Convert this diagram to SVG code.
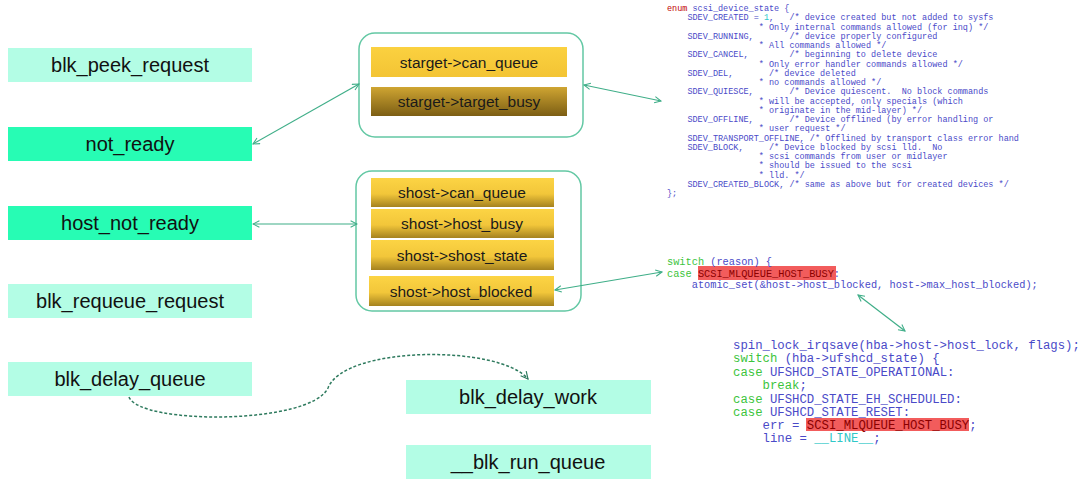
<svg xmlns="http://www.w3.org/2000/svg" width="1080" height="484" viewBox="0 0 1080 484">
<defs>
<linearGradient id="gY" x1="0" y1="0" x2="0" y2="1"><stop offset="0" stop-color="#fcd444"/><stop offset="0.55" stop-color="#f2c63a"/><stop offset="1" stop-color="#a5821f"/></linearGradient>
<linearGradient id="gY2" x1="0" y1="0" x2="0" y2="1"><stop offset="0" stop-color="#fbd140"/><stop offset="1" stop-color="#f3c434"/></linearGradient>
<linearGradient id="gD" x1="0" y1="0" x2="0" y2="1"><stop offset="0" stop-color="#cfa532"/><stop offset="1" stop-color="#7c5e14"/></linearGradient>
<marker id="ah" viewBox="0 0 10 10" refX="9" refY="5" markerWidth="8" markerHeight="8" orient="auto-start-reverse" markerUnits="userSpaceOnUse"><path d="M1,1 L9,5 L1,9" fill="none" stroke="#3fae88" stroke-width="1.3"/></marker>
<marker id="ahd" viewBox="0 0 10 10" refX="9" refY="5" markerWidth="9" markerHeight="9" orient="auto" markerUnits="userSpaceOnUse"><path d="M1,1 L9,5 L1,9" fill="none" stroke="#2e7a5e" stroke-width="1.3"/></marker>
</defs>
<style>
.lt{fill:#b3fde5}.bt{fill:#27fcb4}
.nt{font-family:"Liberation Sans",Arial,sans-serif;font-size:20px;fill:#111;text-anchor:middle}
.it{font-family:"Liberation Sans",Arial,sans-serif;font-size:15.5px;fill:#1a1a1a;text-anchor:middle}
.grp{fill:#fff;stroke:#63c8a4;stroke-width:1.5}
.conn{fill:none;stroke:#3fae88;stroke-width:1.2;marker-start:url(#ah);marker-end:url(#ah)}
.code text{font-family:"Liberation Mono","Courier New",monospace;fill:#4a4ac8;white-space:pre}
.c1 text{font-size:8.5px}.c2 text{font-size:10.3px}.c3 text{font-size:12.3px}
.kw{fill:#3cc43c}.red{fill:#c00000}.cy{fill:#30c8c8}.hl{fill:#8b0000}
</style>
<rect width="1080" height="484" fill="#fff"/>

<g id="blk_peek_request"><rect class="lt" x="8" y="48" width="244" height="34"/><text class="nt" x="130" y="72">blk_peek_request</text></g>
<g id="not_ready"><rect class="bt" x="8" y="127" width="244" height="34"/><text class="nt" x="130" y="151">not_ready</text></g>
<g id="host_not_ready"><rect class="bt" x="8" y="206" width="244" height="34"/><text class="nt" x="130" y="230">host_not_ready</text></g>
<g id="blk_requeue_request"><rect class="lt" x="8" y="284" width="244" height="34"/><text class="nt" x="130" y="308">blk_requeue_request</text></g>
<g id="blk_delay_queue"><rect class="lt" x="8" y="362" width="244" height="34"/><text class="nt" x="130" y="386">blk_delay_queue</text></g>
<g id="blk_delay_work"><rect class="lt" x="406" y="380" width="245" height="34"/><text class="nt" x="528" y="404">blk_delay_work</text></g>
<g id="__blk_run_queue"><rect class="lt" x="406" y="445" width="245" height="34"/><text class="nt" x="528" y="469">__blk_run_queue</text></g>

<g id="starget_group">
<rect class="grp" x="359" y="33" width="224" height="104" rx="16"/>
<g id="starget_can_queue"><rect x="371" y="47" width="196" height="30" fill="url(#gY2)"/><text class="it" x="469" y="68">starget-&gt;can_queue</text></g>
<g id="starget_target_busy"><rect x="371" y="87" width="196" height="29" fill="url(#gD)"/><text class="it" x="469" y="107">starget-&gt;target_busy</text></g>
</g>

<g id="shost_group">
<rect class="grp" x="356" y="171" width="225" height="140" rx="16"/>
<g id="shost_can_queue"><rect x="371" y="178" width="183" height="29" fill="url(#gY)"/><text class="it" x="462" y="198">shost-&gt;can_queue</text></g>
<g id="shost_host_busy"><rect x="371" y="209" width="183" height="29" fill="url(#gY)"/><text class="it" x="462" y="229">shost-&gt;host_busy</text></g>
<g id="shost_shost_state"><rect x="371" y="240" width="183" height="30" fill="url(#gY)"/><text class="it" x="462" y="261">shost-&gt;shost_state</text></g>
<g id="shost_host_blocked"><rect x="369" y="276" width="185" height="30" fill="url(#gY)"/><text class="it" x="461" y="297">shost-&gt;host_blocked</text></g>
</g>

<g id="enum_code" class="code c1">
<text x="667" y="11"><tspan class="red">enum</tspan> scsi_device_state {</text>
<text x="667" y="20.25" xml:space="preserve">    SDEV_CREATED = <tspan class="cy">1</tspan>,   /* device created but not added to sysfs</text>
<text x="667" y="29.5" xml:space="preserve">                  * Only internal commands allowed (for inq) */</text>
<text x="667" y="38.75" xml:space="preserve">    SDEV_RUNNING,       /* device properly configured</text>
<text x="667" y="48" xml:space="preserve">                  * All commands allowed */</text>
<text x="667" y="57.25" xml:space="preserve">    SDEV_CANCEL,        /* beginning to delete device</text>
<text x="667" y="66.5" xml:space="preserve">                  * Only error handler commands allowed */</text>
<text x="667" y="75.75" xml:space="preserve">    SDEV_DEL,       /* device deleted</text>
<text x="667" y="85" xml:space="preserve">                  * no commands allowed */</text>
<text x="667" y="94.25" xml:space="preserve">    SDEV_QUIESCE,       /* Device quiescent.  No block commands</text>
<text x="667" y="103.5" xml:space="preserve">                  * will be accepted, only specials (which</text>
<text x="667" y="112.75" xml:space="preserve">                  * originate in the mid-layer) */</text>
<text x="667" y="122" xml:space="preserve">    SDEV_OFFLINE,       /* Device offlined (by error handling or</text>
<text x="667" y="131.25" xml:space="preserve">                  * user request */</text>
<text x="667" y="140.5" xml:space="preserve">    SDEV_TRANSPORT_OFFLINE, /* Offlined by transport class error hand</text>
<text x="667" y="149.75" xml:space="preserve">    SDEV_BLOCK,     /* Device blocked by scsi lld.  No</text>
<text x="667" y="159" xml:space="preserve">                  * scsi commands from user or midlayer</text>
<text x="667" y="168.25" xml:space="preserve">                  * should be issued to the scsi</text>
<text x="667" y="177.5" xml:space="preserve">                  * lld. */</text>
<text x="667" y="186.75" xml:space="preserve">    SDEV_CREATED_BLOCK, /* same as above but for created devices */</text>
<text x="667" y="196">};</text>
</g>

<g id="switch_code" class="code c2">
<rect x="698" y="266" width="138" height="14" fill="#f25c5c"/>
<text x="667" y="265"><tspan class="kw">switch</tspan> (reason) {</text>
<text x="667" y="277" xml:space="preserve"><tspan class="kw">case</tspan> <tspan class="hl">SCSI_MLQUEUE_HOST_BUSY</tspan>:</text>
<text x="667" y="288" xml:space="preserve">    atomic_set(&amp;host-&gt;host_blocked, host-&gt;max_host_blocked);</text>
</g>

<g id="ufs_code" class="code c3">
<rect x="806" y="418" width="163" height="13" fill="#f25c5c"/>
<text x="733" y="349">spin_lock_irqsave(hba-&gt;host-&gt;host_lock, flags);</text>
<text x="733" y="362" xml:space="preserve"><tspan class="kw">switch</tspan> (hba-&gt;ufshcd_state) {</text>
<text x="733" y="376" xml:space="preserve"><tspan class="kw">case</tspan> UFSHCD_STATE_OPERATIONAL:</text>
<text x="733" y="389" xml:space="preserve"><tspan class="kw">    break</tspan>;</text>
<text x="733" y="403" xml:space="preserve"><tspan class="kw">case</tspan> UFSHCD_STATE_EH_SCHEDULED:</text>
<text x="733" y="416" xml:space="preserve"><tspan class="kw">case</tspan> UFSHCD_STATE_RESET:</text>
<text x="733" y="429" xml:space="preserve">    err = <tspan class="hl">SCSI_MLQUEUE_HOST_BUSY</tspan>;</text>
<text x="733" y="442" xml:space="preserve">    line = <tspan class="cy">__LINE__</tspan>;</text>
</g>

<g id="connectors">
<line class="conn" x1="253" y1="144" x2="359" y2="84"/>
<line class="conn" x1="253" y1="224" x2="357" y2="224"/>
<line class="conn" x1="584" y1="85" x2="661" y2="101"/>
<line class="conn" x1="555" y1="290" x2="662" y2="272"/>
<line class="conn" x1="858" y1="295" x2="905" y2="331"/>
<path d="M129,397 C140,425 310,425 328,388 C345,345 500,345 528,379" fill="none" stroke="#2e7a5e" stroke-width="1.5" stroke-dasharray="3,2" marker-end="url(#ahd)"/>
</g>
</svg>
